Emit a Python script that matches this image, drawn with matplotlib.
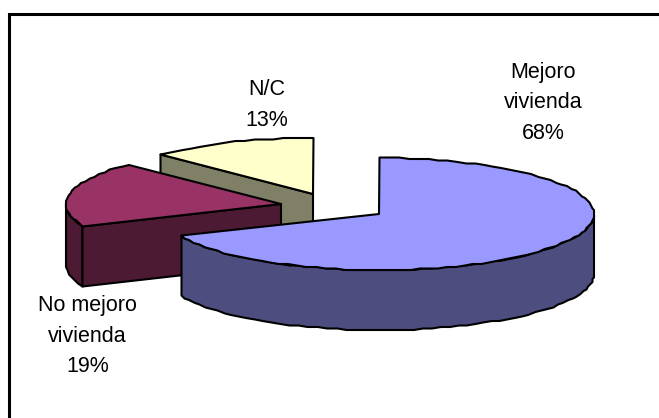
import matplotlib
matplotlib.use("Agg")
import matplotlib.pyplot as plt
import numpy as np

labels = ["Mejoro\nvivienda", "No mejoro\nvivienda", "N/C"]
values = [68, 19, 13]

top_colors = ["#9999FF", "#993366", "#FFFFCC"]
side_colors = ["#4D4D80", "#4D1A33", "#808066"]

# exploded slice centres, in pixels
centers = [(379, 214), (281, 204), (313, 194)]
label_pos = [(543.5, 103), (87.5, 336), (267, 105)]

RX = 215
RY = 56
DEPTH = 60
SKEW = 2.5  # degrees, perspective pull on the sides of the disc


def rim(cx, cy, a0, a1):
    # points on the rim, angles clockwise from 12 o'clock; snapped to a
    # coarse grid so the edge comes out slightly rough
    n = max(2, int(abs(a1 - a0) / 2.5))
    deg = np.linspace(a0, a1, n)
    t = np.radians(deg + SKEW * np.abs(np.sin(np.radians(deg))))
    x = cx + RX * np.sin(t)
    y = cy - RY * np.cos(t)
    return np.round(x / 1.5) * 1.5, np.round(y / 1.5) * 1.5


fig = plt.figure(figsize=(6.59, 4.18), dpi=100)
ax = fig.add_axes([0, 0, 1, 1])
ax.set_xlim(0, 659)
ax.set_ylim(418, 0)
ax.axis("off")

edge = dict(edgecolor="black", linewidth=1.5, joinstyle="round")

# frame, left and top sides only
ax.plot([9, 9, 659], [418, 13.5, 13.5], color="black", lw=2.2, solid_joinstyle="miter")

angles = np.cumsum([0] + values) * 3.6
a_mej, a_nom, a_nc, a_end = angles

# N/C: cut face, then top
cx, cy = centers[2]
xe, ye = rim(cx, cy, a_nc, a_nc)
ax.fill([cx, xe[0], xe[0], cx], [cy, ye[0], ye[0] + DEPTH, cy + DEPTH],
        facecolor=side_colors[2], **edge)
x, y = rim(cx, cy, a_nc, a_end)
ax.fill(np.r_[cx, x], np.r_[cy, y], facecolor=top_colors[2], **edge)

# No mejoro: rim wall up to the leftmost point, cut face, top
cx, cy = centers[1]
x, y = rim(cx, cy, a_nom, 267)
ax.fill(np.r_[x, x[::-1]], np.r_[y, y[::-1] + DEPTH],
        facecolor=side_colors[1], **edge)
xe, ye = rim(cx, cy, a_nom, a_nom)
ax.fill([cx, xe[0], xe[0], cx], [cy, ye[0], ye[0] + DEPTH, cy + DEPTH],
        facecolor=side_colors[1], **edge)
x, y = rim(cx, cy, a_nom, a_nc)
ax.fill(np.r_[cx, x], np.r_[cy, y], facecolor=top_colors[1], **edge)

# Mejoro: front wall, then top
cx, cy = centers[0]
x, y = rim(cx, cy, 88, a_nom)
ax.fill(np.r_[x, x[::-1]], np.r_[y, y[::-1] + DEPTH],
        facecolor=side_colors[0], **edge)
x, y = rim(cx, cy, a_mej, a_nom)
ax.fill(np.r_[cx, x], np.r_[cy, y], facecolor=top_colors[0], **edge)

for label, value, (lx, ly) in zip(labels, values, label_pos):
    ax.text(lx, ly, f"{label}\n{value}%", ha="center", va="center",
            family="Liberation Sans", fontsize=15.5, linespacing=1.62, color="black")

fig.savefig("out.png", dpi=100)
